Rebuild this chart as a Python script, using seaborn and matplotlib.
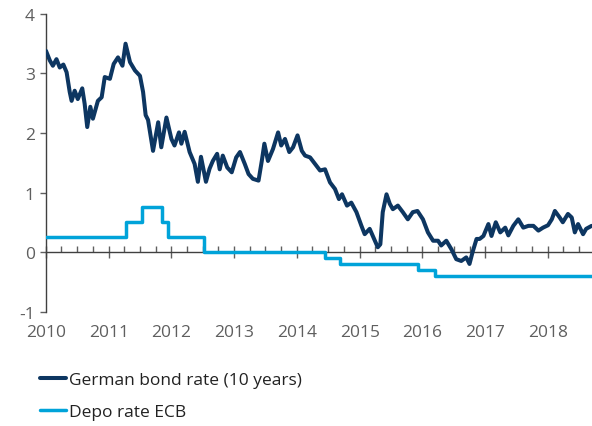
import pandas as pd
import matplotlib.pyplot as plt
import matplotlib.dates as mdates
import seaborn as sns

# German 10y bond yield (%)
bond_dates = [
    "2010-01-01", "2010-01-23", "2010-02-10", "2010-03-03", "2010-03-22", "2010-04-12",
    "2010-05-01", "2010-05-19", "2010-05-30", "2010-06-17", "2010-07-05", "2010-07-31",
    "2010-08-14", "2010-08-29", "2010-09-16", "2010-10-01", "2010-10-30", "2010-11-21",
    "2010-12-09", "2011-01-08", "2011-01-30", "2011-02-24", "2011-03-22", "2011-04-09",
    "2011-05-05", "2011-06-03", "2011-07-02", "2011-07-20", "2011-08-04", "2011-08-18",
    "2011-09-16", "2011-10-16", "2011-11-03", "2011-12-03", "2012-01-01", "2012-01-19",
    "2012-02-14", "2012-02-28", "2012-03-18", "2012-04-16", "2012-05-15", "2012-06-03",
    "2012-06-21", "2012-07-20", "2012-08-10", "2012-08-29", "2012-09-23", "2012-10-08",
    "2012-10-26", "2012-11-21", "2012-12-17", "2013-01-12", "2013-02-03", "2013-03-03",
    "2013-03-25", "2013-04-19", "2013-05-22", "2013-06-10", "2013-06-25", "2013-07-16",
    "2013-08-14", "2013-09-13", "2013-10-01", "2013-10-23", "2013-11-17", "2013-12-09",
    "2014-01-04", "2014-01-29", "2014-02-17", "2014-03-18", "2014-04-16", "2014-05-15",
    "2014-06-13", "2014-07-12", "2014-08-10", "2014-09-02", "2014-09-20", "2014-10-19",
    "2014-11-13", "2014-12-13", "2015-01-11", "2015-01-30", "2015-02-28", "2015-03-18",
    "2015-04-16", "2015-05-01", "2015-05-15", "2015-06-06", "2015-06-25", "2015-07-13",
    "2015-08-11", "2015-09-09", "2015-10-08", "2015-11-06", "2015-12-03", "2016-01-04",
    "2016-02-02", "2016-03-03", "2016-04-01", "2016-04-19", "2016-05-19", "2016-06-17",
    "2016-07-16", "2016-08-14", "2016-09-12", "2016-10-01", "2016-10-19", "2016-11-11",
    "2016-11-29", "2016-12-21", "2017-01-19", "2017-02-06", "2017-03-03", "2017-03-29",
    "2017-04-27", "2017-05-15", "2017-06-13", "2017-07-12", "2017-08-10", "2017-09-09",
    "2017-10-08", "2017-11-06", "2017-12-03", "2018-01-01", "2018-01-23", "2018-02-10",
    "2018-03-10", "2018-03-28", "2018-04-27", "2018-05-19", "2018-06-06", "2018-06-25",
    "2018-07-24", "2018-08-11", "2018-09-12",
]
bond_vals = [
    3.38, 3.22, 3.13, 3.24, 3.10, 3.15,
    3.02, 2.69, 2.54, 2.71, 2.57, 2.75,
    2.49, 2.10, 2.44, 2.24, 2.54, 2.60,
    2.94, 2.91, 3.16, 3.27, 3.13, 3.50,
    3.19, 3.05, 2.96, 2.69, 2.30, 2.22,
    1.70, 2.18, 1.76, 2.26, 1.90, 1.79,
    2.01, 1.82, 2.02, 1.68, 1.48, 1.18,
    1.60, 1.18, 1.40, 1.53, 1.65, 1.39,
    1.62, 1.42, 1.34, 1.59, 1.68, 1.48,
    1.31, 1.23, 1.20, 1.53, 1.82, 1.53,
    1.73, 2.01, 1.79, 1.90, 1.68, 1.76,
    1.96, 1.70, 1.62, 1.59, 1.48, 1.37,
    1.39, 1.17, 1.06, 0.89, 0.97, 0.78,
    0.83, 0.67, 0.44, 0.30, 0.39, 0.27,
    0.08, 0.13, 0.67, 0.97, 0.81, 0.72,
    0.78, 0.67, 0.55, 0.67, 0.69, 0.55,
    0.33, 0.19, 0.19, 0.11, 0.19, 0.05,
    -0.12, -0.15, -0.09, -0.20, 0.00, 0.22,
    0.22, 0.27, 0.47, 0.27, 0.50, 0.33,
    0.41, 0.28, 0.44, 0.55, 0.41, 0.44,
    0.44, 0.36, 0.41, 0.45, 0.55, 0.69,
    0.58, 0.50, 0.64, 0.58, 0.33, 0.47,
    0.30, 0.39, 0.44,
]

# ECB deposit rate (%), value holds from each date on
depo_dates = ["2010-01-01", "2011-04-13", "2011-07-13", "2011-11-09", "2011-12-14",
              "2012-07-11", "2014-06-11", "2014-09-10", "2015-12-09", "2016-03-16",
              "2018-09-14"]
depo_vals = [0.25, 0.5, 0.75, 0.5, 0.25, 0.0, -0.1, -0.2, -0.3, -0.4, -0.4]

bond = pd.DataFrame({"date": pd.to_datetime(bond_dates), "rate": bond_vals})
depo = pd.DataFrame({"date": pd.to_datetime(depo_dates), "rate": depo_vals})

sns.set_theme(style="white")
plt.rcParams["font.family"] = ["Open Sans", "DejaVu Sans"]
plt.rcParams["axes.unicode_minus"] = False
grey = "#5f5f5f"
axis_col = "#404040"

fig = plt.figure(figsize=(5.92, 4.27), dpi=100)
ax = fig.add_axes([0.0777, 0.268, 0.9223, 0.697])

sns.lineplot(data=depo, x="date", y="rate", ax=ax, color="#00a3d9", lw=2.5,
             drawstyle="steps-post", label="Depo rate ECB", zorder=3)
sns.lineplot(data=bond, x="date", y="rate", ax=ax, color="#0d3661", lw=2.9,
             label="German bond rate (10 years)", zorder=4)

ax.set_ylim(-1, 4)
ax.set_xlim(pd.Timestamp("2010-01-01"), pd.Timestamp("2018-09-14"))
ax.set_xlabel("")
ax.set_ylabel("")

for s in ["top", "right", "bottom"]:
    ax.spines[s].set_visible(False)
ax.spines["left"].set_color(axis_col)
ax.spines["left"].set_linewidth(1)

ax.xaxis.set_major_locator(mdates.YearLocator())
ax.xaxis.set_major_formatter(mdates.DateFormatter("%Y"))
ax.tick_params(axis="x", length=0, pad=9, labelsize=12.5, labelcolor=grey)
ax.tick_params(axis="y", left=True, length=4, width=1, color=grey, direction="out",
               pad=4, labelsize=12.5, labelcolor=grey)
ax.set_yticks([-1, 0, 1, 2, 3, 4])

# zero line with year / quarter ticks
zero = ax.secondary_xaxis(0.2)
zero.xaxis.set_major_locator(mdates.YearLocator())
zero.xaxis.set_minor_locator(mdates.MonthLocator(bymonth=[4, 7, 10]))
zero.tick_params(which="major", direction="inout", length=9, width=1, color=grey,
                 labelbottom=False)
zero.tick_params(which="minor", direction="in", length=4, width=1, color=grey)
zero.spines["bottom"].set_color(axis_col)
zero.spines["bottom"].set_linewidth(1)
zero.set_zorder(1)

# legend below the chart, bond first
handles, labels = ax.get_legend_handles_labels()
ax.get_legend().remove()
fig.legend(handles[::-1], labels[::-1], loc="upper left", bbox_to_anchor=(0.068, 0.126),
           frameon=False, fontsize=12.5, handlelength=1.5, handletextpad=0.15,
           labelspacing=0.9, borderpad=0, borderaxespad=0, labelcolor="#222222")

fig.savefig("out.png", dpi=100)
